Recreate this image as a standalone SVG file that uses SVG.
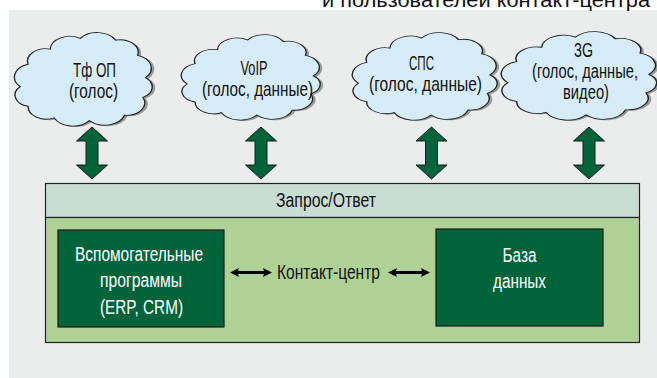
<svg xmlns="http://www.w3.org/2000/svg" xmlns:xlink="http://www.w3.org/1999/xlink" width="657" height="378" viewBox="0 0 657 378">
<style>
text{font-family:"Liberation Sans",Arial,sans-serif;font-size:20px;fill:#111;text-anchor:middle}
.c{font-size:21px}
.w{fill:#ffffff}
.cloud{fill:#d6edf9;stroke:#222;stroke-width:1}
.shadow{fill:#9a9a9a}
.varrow{fill:#00643a;stroke:#1a1a1a;stroke-width:1}
.harrow{fill:#000}
.dark{fill:#00633a;stroke:#1a1a1a;stroke-width:1.2}
</style>
<defs>
<path id="cloudp" d="M2,60 A15,15 0 0 1 8,35 A14,14 0 0 1 25,18 A15,15 0 0 1 48,6 A16,16 0 0 1 75,8 A14,14 0 0 1 92,25 A15,15 0 0 1 98,50 A13,13 0 0 1 96,72 A14,14 0 0 1 82,92 A16,16 0 0 1 55,98 A16,16 0 0 1 28,95 A14,14 0 0 1 8,82 A13,13 0 0 1 2,60 Z"/>
</defs>
<rect x="0" y="0" width="657" height="378" fill="#ffffff"/>
<rect x="9" y="10" width="648" height="368" fill="#ebedec"/>
<text x="650" y="7" style="text-anchor:end" textLength="328" lengthAdjust="spacingAndGlyphs">и пользователей контакт-центра</text>

<g id="cloud-tfop">
<g transform="translate(20.6,34) scale(1.305,0.894)"><use xlink:href="#cloudp" class="shadow"/></g>
<g transform="translate(17.6,33) scale(1.305,0.894)"><use xlink:href="#cloudp" class="cloud" vector-effect="non-scaling-stroke"/></g>
<text class="c" x="94.5" y="77" textLength="43" lengthAdjust="spacingAndGlyphs">Тф ОП</text>
<text class="c" x="93.5" y="98" textLength="49" lengthAdjust="spacingAndGlyphs">(голос)</text>
</g>
<g id="cloud-voip">
<g transform="translate(187.6,36) scale(1.314,0.817)"><use xlink:href="#cloudp" class="shadow"/></g>
<g transform="translate(184.6,35) scale(1.314,0.817)"><use xlink:href="#cloudp" class="cloud" vector-effect="non-scaling-stroke"/></g>
<text class="c" x="254" y="75" textLength="27" lengthAdjust="spacingAndGlyphs">VoIP</text>
<text class="c" x="257.5" y="96" textLength="111" lengthAdjust="spacingAndGlyphs">(голос, данные)</text>
</g>
<g id="cloud-sps">
<g transform="translate(358.7,34) scale(1.371,0.837)"><use xlink:href="#cloudp" class="shadow"/></g>
<g transform="translate(355.7,33) scale(1.371,0.837)"><use xlink:href="#cloudp" class="cloud" vector-effect="non-scaling-stroke"/></g>
<text class="c" x="421.5" y="70" textLength="25" lengthAdjust="spacingAndGlyphs">СПС</text>
<text class="c" x="425.5" y="91" textLength="113" lengthAdjust="spacingAndGlyphs">(голос, данные)</text>
</g>
<g id="cloud-3g">
<g transform="translate(507.9,33) scale(1.47,0.846)"><use xlink:href="#cloudp" class="shadow"/></g>
<g transform="translate(504.9,32) scale(1.47,0.846)"><use xlink:href="#cloudp" class="cloud" vector-effect="non-scaling-stroke"/></g>
<text x="583.5" y="57" textLength="19" lengthAdjust="spacingAndGlyphs">3G</text>
<text x="585" y="78" textLength="106" lengthAdjust="spacingAndGlyphs">(голос, данные,</text>
<text x="586" y="99" textLength="46" lengthAdjust="spacingAndGlyphs">видео)</text>
</g>

<g id="contact-center">
<rect x="45.5" y="183.5" width="594" height="34" fill="#c8ddd3" stroke="#222" stroke-width="1.2"/>
<rect x="45.5" y="217.5" width="594" height="125" fill="#aed296" stroke="#222" stroke-width="1.2"/>
<text x="326" y="207" textLength="100" lengthAdjust="spacingAndGlyphs">Запрос/Ответ</text>
<text x="328.5" y="279" textLength="103" lengthAdjust="spacingAndGlyphs">Контакт-центр</text>
</g>
<g id="aux-programs">
<rect x="58" y="230" width="166" height="97" class="dark"/>
<text x="139" y="261" class="w" textLength="128" lengthAdjust="spacingAndGlyphs">Вспомогательные</text>
<text x="141" y="287" class="w" textLength="82" lengthAdjust="spacingAndGlyphs">программы</text>
<text x="141.5" y="314" class="w" textLength="83" lengthAdjust="spacingAndGlyphs">(ERP, CRM)</text>
</g>
<g id="database">
<rect x="436" y="229" width="167" height="97" class="dark"/>
<text x="519.5" y="262" class="w" textLength="34" lengthAdjust="spacingAndGlyphs">База</text>
<text x="519.5" y="288" class="w" textLength="53" lengthAdjust="spacingAndGlyphs">данных</text>
</g>

<g id="connectors">
<path class="varrow" d="M92,127 L107.5,141 L98,141 L98,165 L107.5,165 L92,179 L76.5,165 L86,165 L86,141 L76.5,141 Z"/>
<path class="varrow" d="M261,127 L276.5,141 L267,141 L267,165 L276.5,165 L261,179 L245.5,165 L255,165 L255,141 L245.5,141 Z"/>
<path class="varrow" d="M431.5,127 L447,141 L437.5,141 L437.5,165 L447,165 L431.5,179 L416,165 L425.5,165 L425.5,141 L416,141 Z"/>
<path class="varrow" d="M589,127 L604.5,141 L595,141 L595,165 L604.5,165 L589,179 L573.5,165 L583,165 L583,141 L573.5,141 Z"/>
<path class="harrow" d="M230,272.5 L239,268 L238,271 L264,271 L263,268 L272,272.5 L263,277 L264,274 L238,274 L239,277 Z"/>
<path class="harrow" d="M388,272.5 L397,268 L396,271 L422,271 L421,268 L430,272.5 L421,277 L422,274 L396,274 L397,277 Z"/>
</g>
</svg>
